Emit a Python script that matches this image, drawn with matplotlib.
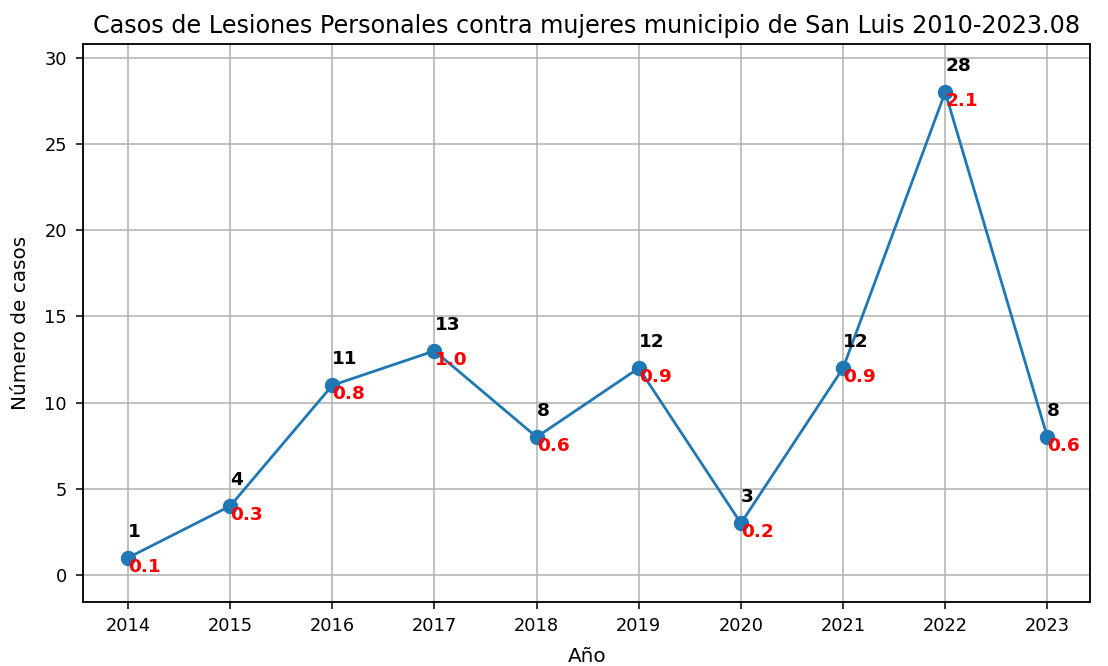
import matplotlib
matplotlib.use("Agg")
import matplotlib.pyplot as plt

years = [2014, 2015, 2016, 2017, 2018, 2019, 2020, 2021, 2022, 2023]
cases = [1, 4, 11, 13, 8, 12, 3, 12, 28, 8]
rates = [0.1, 0.3, 0.8, 1.0, 0.6, 0.9, 0.2, 0.9, 2.1, 0.6]

fig, ax = plt.subplots(figsize=(10, 6.011), dpi=110.8)
fig.subplots_adjust(left=0.075, right=0.984, top=0.934, bottom=0.096)

ax.plot(years, cases, marker="o", color="#1f77b4", markersize=9, linewidth=1.8)

for x, y, r in zip(years, cases, rates):
    ax.text(x, y + 1, str(y), ha="left", va="bottom", fontweight="bold",
            color="black", fontsize=12)
    ax.text(x, y, f"{r:.1f}", ha="left", va="top", fontweight="bold",
            color="red", fontsize=12)

ax.set_title("Casos de Lesiones Personales contra mujeres municipio de San Luis 2010-2023.08",
             fontsize=15.5, pad=7)
ax.set_xlabel("Año", fontsize=13, labelpad=7.5)
ax.set_ylabel("Número de casos", fontsize=13)
ax.yaxis.set_label_coords(-0.053, 0.5)
ax.tick_params(axis="both", labelsize=11.5, length=4.5, width=1.0)
ax.tick_params(axis="y", pad=6)
ax.tick_params(axis="x", pad=5.5)
ax.set_xticks(years)
ax.set_xlim(2013.56, 2023.42)
ax.set_ylim(-1.57, 30.8)
ax.grid(True, linewidth=1.0)
for s in ax.spines.values():
    s.set_linewidth(1.2)

fig.savefig("out.png")
